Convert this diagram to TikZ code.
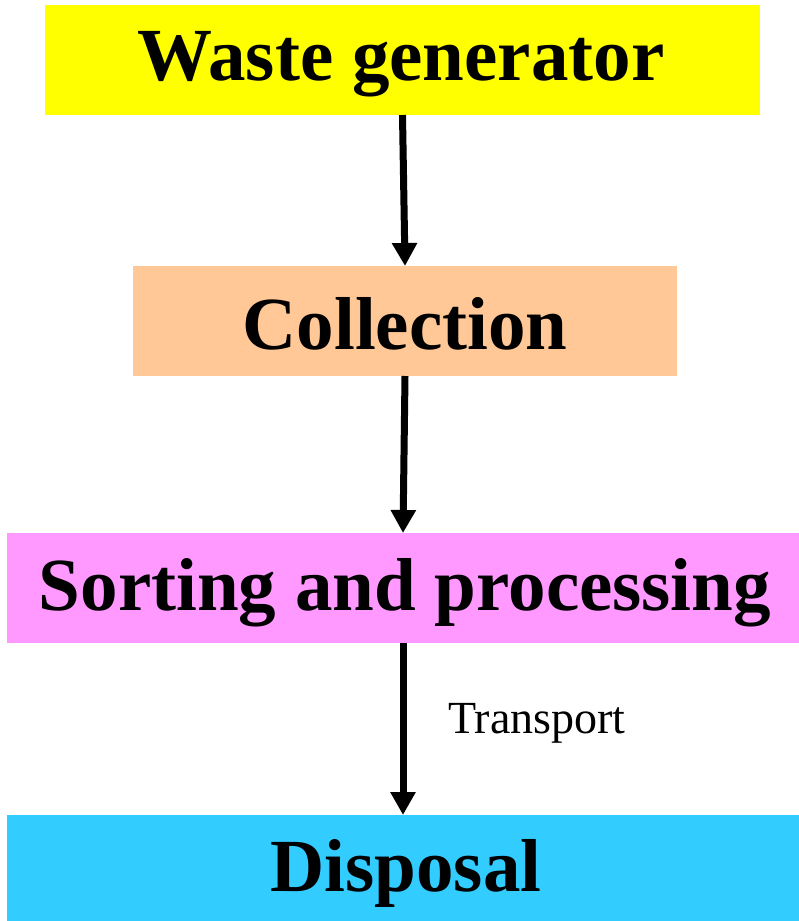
\documentclass[tikz,border=0pt]{standalone}
\usepackage{fontspec}
\setmainfont{Liberation Serif}
\usetikzlibrary{arrows.meta}
\definecolor{cyel}{RGB}{255,255,0}
\definecolor{cpeach}{RGB}{255,200,150}
\definecolor{cpink}{RGB}{255,153,255}
\definecolor{ccyan}{RGB}{51,204,255}
\begin{document}
\begin{tikzpicture}[x=1pt,y=-1pt,
  boxst/.style={inner sep=0pt, outer sep=0pt},
  lab/.style={inner sep=0pt, font=\fontsize{75}{80}\selectfont\bfseries},
  flow/.style={line width=7pt, -{Triangle[width=24pt,length=23pt]}}]
\useasboundingbox (0,0) rectangle (799,921);
\node[boxst, fill=cyel, minimum width=715pt, minimum height=110pt] (w) at (402.5,60) {};
\node[boxst, fill=cpeach, minimum width=544pt, minimum height=110pt] (c) at (405,321) {};
\node[boxst, fill=cpink, minimum width=792pt, minimum height=110pt] (s) at (403,588) {};
\node[boxst, fill=ccyan, minimum width=792pt, minimum height=106pt] (d) at (403,868) {};
\node[lab] (wt) at (401,64) {Waste generator};
\node[lab] (ct) at (405,324) {Collection};
\node[lab] (st) at (405,593) {Sorting and processing};
\node[lab] (dt) at (406,873) {Disposal};
\draw[flow] (w.south) -- (c.north);
\draw[flow] (c.south) -- (s.north);
\draw[flow] (s.south) -- (d.north);
\node[font=\fontsize{46}{50}\selectfont, inner sep=0pt] (t) at (537,723) {Transport};
\end{tikzpicture}
\end{document}
